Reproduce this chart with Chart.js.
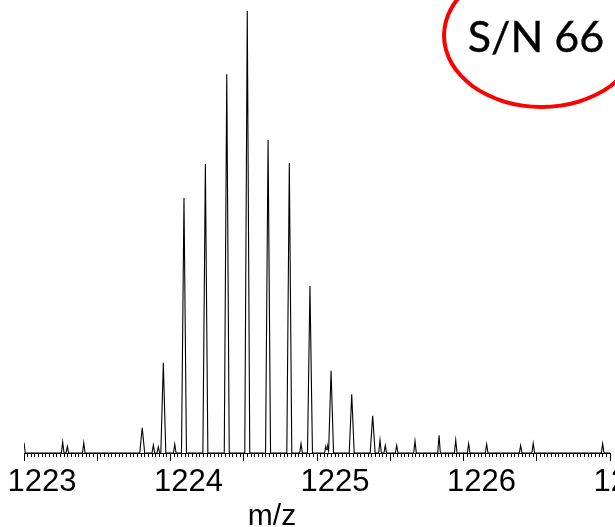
<!DOCTYPE html>
<html><head><meta charset="utf-8">
<script src="https://cdn.jsdelivr.net/npm/chart.js@4.4.1/dist/chart.umd.min.js"></script>
<style>
html,body{margin:0;padding:0;width:615px;height:527px;overflow:hidden;background:#fff;position:relative}
#wrap{position:absolute;left:-100px;top:0;width:900px;height:527px}
#xt{position:absolute;left:222px;width:100px;top:500px;text-align:center;font-family:"Liberation Sans",Arial,sans-serif;font-size:30px;line-height:30px;color:#000}
#ell{position:absolute;left:442px;top:-38px;width:199px;height:147px;box-sizing:border-box;border:4px solid #ff0000;border-radius:50%}
#sn{position:absolute;left:436px;width:200px;top:13px;text-align:center;font-family:Lato,sans-serif;font-size:43px;line-height:45px;color:#000;-webkit-text-stroke:0.4px #000}
</style></head>
<body>
<div id="wrap"><canvas id="c" width="900" height="527"></canvas></div>
<div id="ell"></div><div id="sn">S/N 66</div><div id="xt">m/z</div>
<script>
// ---- data ----
const xMin = 1223, xMax = 1227;
const xTickLabels = ['1223', '1224', '1225', '1226', '1227'];
const peakMz = [1223.000, 1223.264, 1223.296, 1223.408, 1223.807, 1223.883, 1223.917, 1223.951,
  1224.029, 1224.092, 1224.238, 1224.384, 1224.524, 1224.666, 1224.811, 1224.891, 1224.952,
  1225.060, 1225.073, 1225.096, 1225.237, 1225.380, 1225.430, 1225.466, 1225.544, 1225.669,
  1225.833, 1225.947, 1226.035, 1226.158, 1226.390, 1226.476, 1226.950];
const peakIntensity = [2.3, 2.5, 1.5, 2.3, 5.7, 1.8, 1.4, 20.4,
  2.0, 57.7, 65.4, 85.7, 100, 70.8, 65.6, 2.1, 37.8,
  1.5, 1.4, 18.6, 13.3, 8.4, 2.9, 1.7, 1.7, 2.7,
  4.0, 2.9, 2.1, 2.0, 1.7, 2.2, 2.1];

// ---- profile (each centroid drawn as a narrow peak) ----
const peaks = peakMz.map((m, i) => ({ m, h: peakIntensity[i], w: peakIntensity[i] > 5 ? 0.017 : 0.009 }));
const xs = new Set([xMin, xMax]);
peaks.forEach(p => { xs.add(p.m - p.w); xs.add(p.m); xs.add(p.m + p.w); });
const profile = [...xs].filter(x => x >= xMin && x <= xMax).sort((a, b) => a - b)
  .map(x => ({ x, y: Math.max(0, ...peaks.map(p => p.h * Math.max(0, 1 - Math.abs(x - p.m) / p.w))) }));

const tickValues = [];
for (let i = 0; i <= 160; i++) tickValues.push(Math.round((xMin + i * 0.025) * 1000) / 1000);

new Chart(document.getElementById('c'), {
  type: 'line',
  data: { datasets: [{ data: profile, borderColor: '#000', borderWidth: 1.1, pointRadius: 0, tension: 0, fill: false, clip: { left: 0, right: 0, top: 6, bottom: 2 } }] },
  options: {
    responsive: false, animation: false, devicePixelRatio: 1,
    layout: { padding: { left: 124, right: 190, top: 11, bottom: 0 } },
    plugins: { legend: { display: false }, tooltip: { enabled: false } },
    scales: {
      x: {
        type: 'linear', min: xMin, max: xMax,
        afterBuildTicks: s => { s.ticks = tickValues.map(v => ({ value: v })); },
        afterFit: s => { s.height = 74; },
        border: { display: true, color: '#000', width: 1 },
        grid: {
          drawOnChartArea: false, drawTicks: true, tickLength: 8, tickColor: '#000', tickWidth: 1,
          tickBorderDash: ctx => {
            const v = ctx.tick ? ctx.tick.value : 0;
            const r = Math.round(v * 1000) % 500;
            return r === 0 ? [] : [3, 30];
          }
        },
        ticks: {
          autoSkip: false, maxRotation: 0, minRotation: 0, padding: 3, labelOffset: 18,
          color: '#000', font: { family: '"Liberation Sans", Arial, sans-serif', size: 31 },
          callback: v => {
            const idx = xTickLabels.indexOf(String(Math.round(v)));
            return Math.abs(v - Math.round(v)) < 1e-6 && idx >= 0 ? xTickLabels[idx] : '';
          }
        }
      },
      y: { display: false, min: 0, max: 100 }
    }
  }
});
</script>
</body></html>
